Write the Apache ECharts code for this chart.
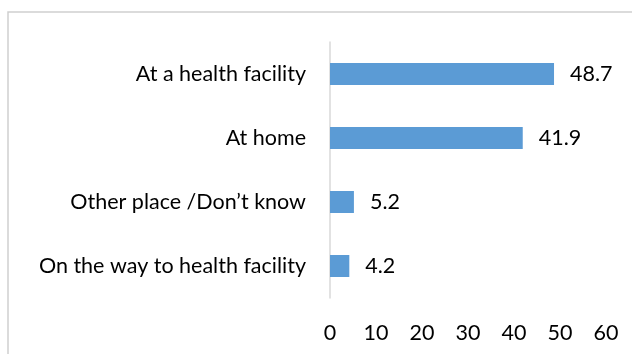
<!DOCTYPE html>
<html>
<head>
<meta charset="utf-8">
<script src="https://cdn.jsdelivr.net/npm/echarts@6/dist/echarts.min.js"></script>
<style>
  html, body { margin: 0; padding: 0; background: #fff; }
  #chart { width: 632px; height: 354px; }
</style>
</head>
<body>
<div id="chart"></div>
<script>
// Place of delivery, percent
const categories = [
  'On the way to health facility',
  'Other place /Don\u2019t know',
  'At home',
  'At a health facility'
];
const values = [4.2, 5.2, 41.9, 48.7];
const xTicks = [0, 10, 20, 30, 40, 50, 60];

const FONT = 'Lato';
const FS = 21.5;
const chart = echarts.init(document.getElementById('chart'), null, { renderer: 'canvas' });

chart.setOption({
  animation: false,
  backgroundColor: '#fff',
  graphic: [{
    type: 'rect',
    shape: { x: 8, y: 12, width: 700, height: 400 },
    style: { fill: 'none', stroke: '#cfcfcf', lineWidth: 1.5 },
    silent: true
  }],
  grid: { left: 330, right: 26, top: 42, bottom: 56, containLabel: false },
  xAxis: {
    type: 'value',
    min: xTicks[0],
    max: xTicks[xTicks.length - 1],
    interval: 10,
    axisLine: { show: false },
    axisTick: { show: false },
    splitLine: { show: false },
    axisLabel: {
      color: '#000',
      fontFamily: FONT,
      fontSize: FS,
      margin: 24
    }
  },
  yAxis: {
    type: 'category',
    data: categories,
    axisLine: { show: true, lineStyle: { color: '#d9d9d9', width: 1.5 } },
    axisTick: { show: false },
    axisLabel: {
      color: '#000',
      fontFamily: FONT,
      fontSize: FS,
      margin: 24
    }
  },
  series: [{
    type: 'bar',
    data: values,
    barWidth: 22,
    itemStyle: { color: '#5b9bd5' },
    label: {
      show: true,
      position: 'right',
      distance: 16,
      color: '#000',
      fontFamily: FONT,
      fontSize: FS,
      formatter: p => p.value.toFixed(1)
    }
  }]
});
</script>
</body>
</html>
